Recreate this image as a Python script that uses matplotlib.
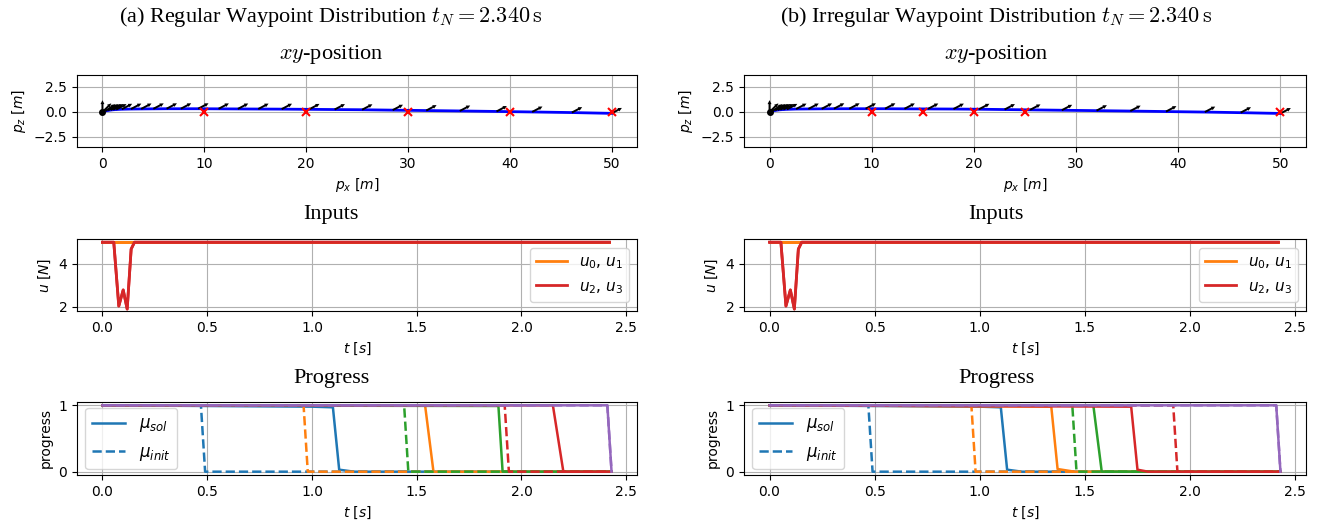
import numpy as np
import matplotlib
matplotlib.use("Agg")
import matplotlib.pyplot as plt

# ---------------- data ----------------
# (a) regular waypoints: sampled positions and thrust direction angles (deg)
pos_x_a = [0, 0.05, 0.3, 0.55, 0.8, 1.05, 1.35, 1.9, 2.8, 3.8, 5.0, 6.3, 7.7, 9.4,
           11.4, 13.3, 15.3, 17.6, 20.3, 22.8, 25.5, 28.5, 31.8, 35.1, 38.7,
           42.2, 46.1, 50.0]
pos_z_a = [0, 0.02, 0.08, 0.13, 0.17, 0.2, 0.22, 0.25, 0.27, 0.28, 0.29, 0.3, 0.3,
           0.3, 0.29, 0.28, 0.27, 0.26, 0.24, 0.22, 0.2, 0.16, 0.12, 0.08, 0.03,
           -0.02, -0.08, -0.16]
ang_a = [90, 45, 35, 32, 30, 29, 28, 28, 28, 28, 28, 28, 28, 28, 28, 28, 28, 28,
         28, 28, 28, 28, 28, 28, 28, 28, 28, 28]
wp_x_a = [10, 20, 30, 40, 50]
wp_z_a = [0, 0, 0, 0, 0]

# (b) irregular waypoints
pos_x_b = [0, 0.05, 0.3, 0.55, 0.8, 1.05, 1.35, 1.7, 2.6, 3.8, 5.1, 6.3, 7.8, 9.4,
           11.3, 13.2, 15.5, 18.0, 20.5, 23.0, 25.5, 28.6, 32.0, 35.3, 38.8,
           42.6, 46.1, 50.0]
pos_z_b = [0, 0.02, 0.08, 0.13, 0.17, 0.2, 0.22, 0.24, 0.27, 0.28, 0.29, 0.3, 0.3,
           0.3, 0.3, 0.29, 0.28, 0.27, 0.25, 0.22, 0.19, 0.15, 0.11, 0.07, 0.02,
           -0.03, -0.09, -0.17]
ang_b = ang_a
wp_x_b = [10, 15, 20, 25, 50]
wp_z_b = [0, 0, 0, 0, 0]

# inputs
t_in = [0.0, 0.054, 0.078, 0.099, 0.118, 0.137, 0.153, 2.42]
u01 = [5.0, 5.0, 5.0, 5.0, 5.0, 5.0, 5.0, 5.0]
u23 = [5.0, 5.0, 2.03, 2.78, 1.89, 4.68, 5.0, 5.0]

# progress: (times, values) per waypoint
init_t = [[0, 0.47, 0.49, 2.43], [0, 0.96, 0.98, 2.43], [0, 1.44, 1.46, 2.43],
          [0, 1.92, 1.94, 2.43], [0, 2.41, 2.43]]
init_v = [[1, 1, 0, 0], [1, 1, 0, 0], [1, 1, 0, 0], [1, 1, 0, 0], [1, 1, 0]]

sol_t_a = [[0, 1.0, 1.10, 1.13, 1.2, 2.43], [0, 1.54, 1.58, 2.43],
           [0, 1.89, 1.91, 2.43], [0, 2.15, 2.20, 2.43], [0, 2.41, 2.43]]
sol_v_a = [[1, 0.98, 0.97, 0.03, 0.0, 0.0], [1, 1, 0, 0], [1, 0.99, 0, 0],
           [1, 1, 0, 0], [1, 1, 0]]
sol_t_b = [[0, 1.0, 1.10, 1.13, 1.2, 2.43], [0, 1.34, 1.37, 1.45, 2.43],
           [0, 1.54, 1.58, 2.43], [0, 1.72, 1.75, 1.8, 2.43], [0, 2.41, 2.43]]
sol_v_b = [[1, 0.98, 0.97, 0.03, 0.0, 0.0], [1, 0.98, 0.04, 0.0, 0.0],
           [1, 1, 0, 0], [1, 0.98, 0.03, 0.0, 0.0], [1, 1, 0]]

titles = [r"(a) Regular Waypoint Distribution $t_N = 2.340\,\mathrm{s}$",
          r"(b) Irregular Waypoint Distribution $t_N = 2.340\,\mathrm{s}$"]

colors = ["#1f77b4", "#ff7f0e", "#2ca02c", "#d62728", "#9467bd"]

# ---------------- figure ----------------
W, H = 1325, 525
fig = plt.figure(figsize=(W / 100, H / 100), dpi=100)


def rect(x0, x1, y0, y1):
    return [x0 / W, 1 - y1 / H, (x1 - x0) / W, (y1 - y0) / H]


cols = [(77, 637), (744, 1306)]
rows = [(75, 147), (239, 311), (402, 475)]
serif = dict(family="Liberation Serif", math_fontfamily="cm")

datasets = [
    (pos_x_a, pos_z_a, ang_a, wp_x_a, wp_z_a, sol_t_a, sol_v_a),
    (pos_x_b, pos_z_b, ang_b, wp_x_b, wp_z_b, sol_t_b, sol_v_b),
]

L = 1.15
for c, (x0, x1) in enumerate(cols):
    px, pz, ang, wx, wz, st, sv = datasets[c]
    xc = 0.25 if c == 0 else 0.752
    fig.text(xc, 1 - 17 / H, titles[c], ha="center", va="center", fontsize=16, **serif)
    fig.text(xc, 1 - 55 / H, r"$xy$-position", ha="center", va="center", fontsize=16, **serif)
    fig.text(xc, 1 - 215 / H, "Inputs", ha="center", va="center", fontsize=16, **serif)
    fig.text(xc, 1 - 378 / H, "Progress", ha="center", va="center", fontsize=16, **serif)

    # xy position
    ax = fig.add_axes(rect(x0, x1, *rows[0]))
    ax.grid(True)
    ax.set_axisbelow(True)
    ax.plot(px, pz, color="blue", lw=2, zorder=2)
    a = np.deg2rad(np.array(ang))
    ax.quiver(px, pz, L * np.cos(a), L * np.sin(a), angles="xy", scale_units="xy",
              scale=1, color="black", width=0.0035, headwidth=2, headlength=2,
              headaxislength=2, zorder=3)
    ax.plot([px[0]], [pz[0]], "o", color="black", ms=4, zorder=4)
    ax.plot(wx, wz, "x", color="red", ms=6, mew=1.5, zorder=4)
    ax.set_xlim(-2.5, 52.5)
    ax.set_ylim(-3.5, 3.65)
    ax.set_xticks([0, 10, 20, 30, 40, 50])
    ax.set_yticks([-2.5, 0.0, 2.5])
    ax.set_xlabel(r"$p_x$ [$m$]")
    ax.set_ylabel(r"$p_z$ [$m$]")

    # inputs
    ax = fig.add_axes(rect(x0, x1, *rows[1]))
    ax.grid(True)
    ax.plot(t_in, u01, color=colors[1], lw=2, label=r"$u_0$, $u_1$")
    ax.plot(t_in, u01, color=colors[1], lw=2)
    ax.plot(t_in, u23, color=colors[3], lw=2, label=r"$u_2$, $u_3$")
    ax.plot(t_in, u23, color=colors[3], lw=2)
    ax.set_xlim(-0.1215, 2.5515)
    ax.set_ylim(1.8, 5.15)
    ax.set_yticks([2, 4])
    ax.set_xticks([0.0, 0.5, 1.0, 1.5, 2.0, 2.5])
    ax.set_xlabel(r"$t$ [$s$]")
    ax.set_ylabel(r"$u$ [$N$]")
    ax.legend(loc="center right", fontsize=11)

    # progress
    ax = fig.add_axes(rect(x0, x1, *rows[2]))
    ax.grid(True)
    for i in range(5):
        ax.plot(st[i], sv[i], color=colors[i], ls="-", lw=1.8)
        ax.plot(init_t[i], init_v[i], color=colors[i], ls="--", lw=1.8)
    h1, = ax.plot([], [], color=colors[0], ls="-", lw=1.8, label=r"$\mu_{sol}$")
    h2, = ax.plot([], [], color=colors[0], ls="--", lw=1.8, label=r"$\mu_{init}$")
    ax.set_xlim(-0.1215, 2.5515)
    ax.set_ylim(-0.05, 1.05)
    ax.set_yticks([0, 1])
    ax.set_xticks([0.0, 0.5, 1.0, 1.5, 2.0, 2.5])
    ax.set_xlabel(r"$t$ [$s$]")
    ax.set_ylabel("progress")
    ax.legend(handles=[h1, h2], loc="center left", fontsize=12)

fig.savefig("out.png", dpi=100)
